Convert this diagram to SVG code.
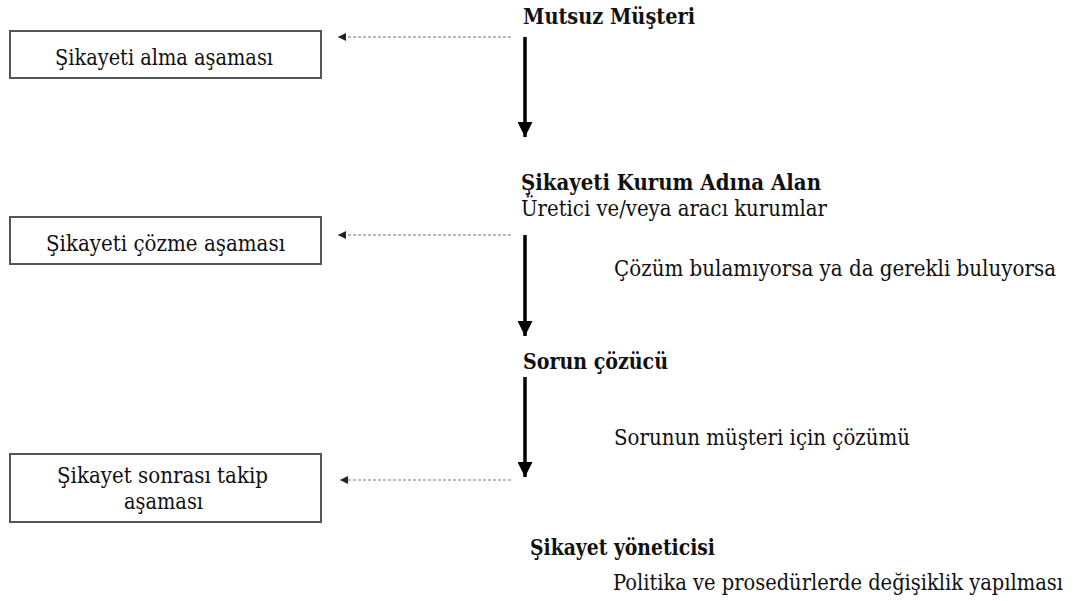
<svg xmlns="http://www.w3.org/2000/svg" width="1082" height="601" viewBox="0 0 1082 601">
  <style>
    .txt { font-family: 'DejaVu Serif Condensed', 'DejaVu Serif', serif; font-stretch: condensed; font-size: 22px; fill: #111111; }
    .bold { font-weight: bold; }
    .stage { fill: #ffffff; stroke: #555555; stroke-width: 2; }
    .flow { stroke: #000000; stroke-width: 3.5; fill: none; }
    .dash { stroke: #777777; stroke-width: 1.2; stroke-dasharray: 3 2; fill: none; }
  </style>
  <defs>
    <marker id="headBig" viewBox="0 0 10 10" refX="10" refY="5" markerUnits="userSpaceOnUse" markerWidth="15" markerHeight="15" orient="auto">
      <path d="M0,0 L10,5 L0,10 Z" fill="#000000"/>
    </marker>
    <marker id="headSmall" viewBox="0 0 10 10" refX="10" refY="5" markerUnits="userSpaceOnUse" markerWidth="9" markerHeight="8" orient="auto">
      <path d="M0,0 L10,5 L0,10 Z" fill="#222222"/>
    </marker>
  </defs>

  <rect width="1082" height="601" fill="#ffffff"/>

  <!-- connectors: solid flow down the right, dashed pointers to the stages -->
  <g id="connectors">
    <line class="flow" x1="525" y1="37" x2="525" y2="137" marker-end="url(#headBig)"/>
    <line class="flow" x1="525" y1="235" x2="525" y2="336" marker-end="url(#headBig)"/>
    <line class="flow" x1="525" y1="377" x2="525" y2="477" marker-end="url(#headBig)"/>
    <line class="dash" x1="511" y1="37" x2="338" y2="37" marker-end="url(#headSmall)"/>
    <line class="dash" x1="511" y1="235" x2="338" y2="235" marker-end="url(#headSmall)"/>
    <line class="dash" x1="511" y1="480" x2="340" y2="480" marker-end="url(#headSmall)"/>
  </g>

  <!-- stage boxes on the left -->
  <g id="stage-receive">
    <rect class="stage" x="10" y="31" width="311" height="47"/>
    <text class="txt" x="55" y="65" textLength="218" lengthAdjust="spacingAndGlyphs">Şikayeti alma aşaması</text>
  </g>
  <g id="stage-resolve">
    <rect class="stage" x="10" y="217" width="311" height="47"/>
    <text class="txt" x="46" y="251" textLength="239" lengthAdjust="spacingAndGlyphs">Şikayeti çözme aşaması</text>
  </g>
  <g id="stage-followup">
    <rect class="stage" x="10" y="454" width="311" height="68"/>
    <text class="txt" x="57" y="483" textLength="211" lengthAdjust="spacingAndGlyphs">Şikayet sonrası takip</text>
    <text class="txt" x="124" y="509" textLength="79" lengthAdjust="spacingAndGlyphs">aşaması</text>
  </g>

  <!-- actors and notes on the right -->
  <g id="customer">
    <text class="txt bold" x="523" y="24" textLength="172" lengthAdjust="spacingAndGlyphs">Mutsuz Müşteri</text>
  </g>
  <g id="receiver">
    <text class="txt bold" x="521" y="190" textLength="300" lengthAdjust="spacingAndGlyphs">Şikayeti Kurum Adına Alan</text>
    <text class="txt" x="521" y="216" textLength="306" lengthAdjust="spacingAndGlyphs">Üretici ve/veya aracı kurumlar</text>
  </g>
  <g id="escalation-note">
    <text class="txt" x="614" y="276" textLength="442" lengthAdjust="spacingAndGlyphs">Çözüm bulamıyorsa ya da gerekli buluyorsa</text>
  </g>
  <g id="solver">
    <text class="txt bold" x="523" y="369" textLength="145" lengthAdjust="spacingAndGlyphs">Sorun çözücü</text>
  </g>
  <g id="solution-note">
    <text class="txt" x="614" y="445" textLength="296" lengthAdjust="spacingAndGlyphs">Sorunun müşteri için çözümü</text>
  </g>
  <g id="manager">
    <text class="txt bold" x="530" y="555" textLength="185" lengthAdjust="spacingAndGlyphs">Şikayet yöneticisi</text>
  </g>
  <g id="policy-note">
    <text class="txt" x="613" y="590" textLength="450" lengthAdjust="spacingAndGlyphs">Politika ve prosedürlerde değişiklik yapılması</text>
  </g>
</svg>
